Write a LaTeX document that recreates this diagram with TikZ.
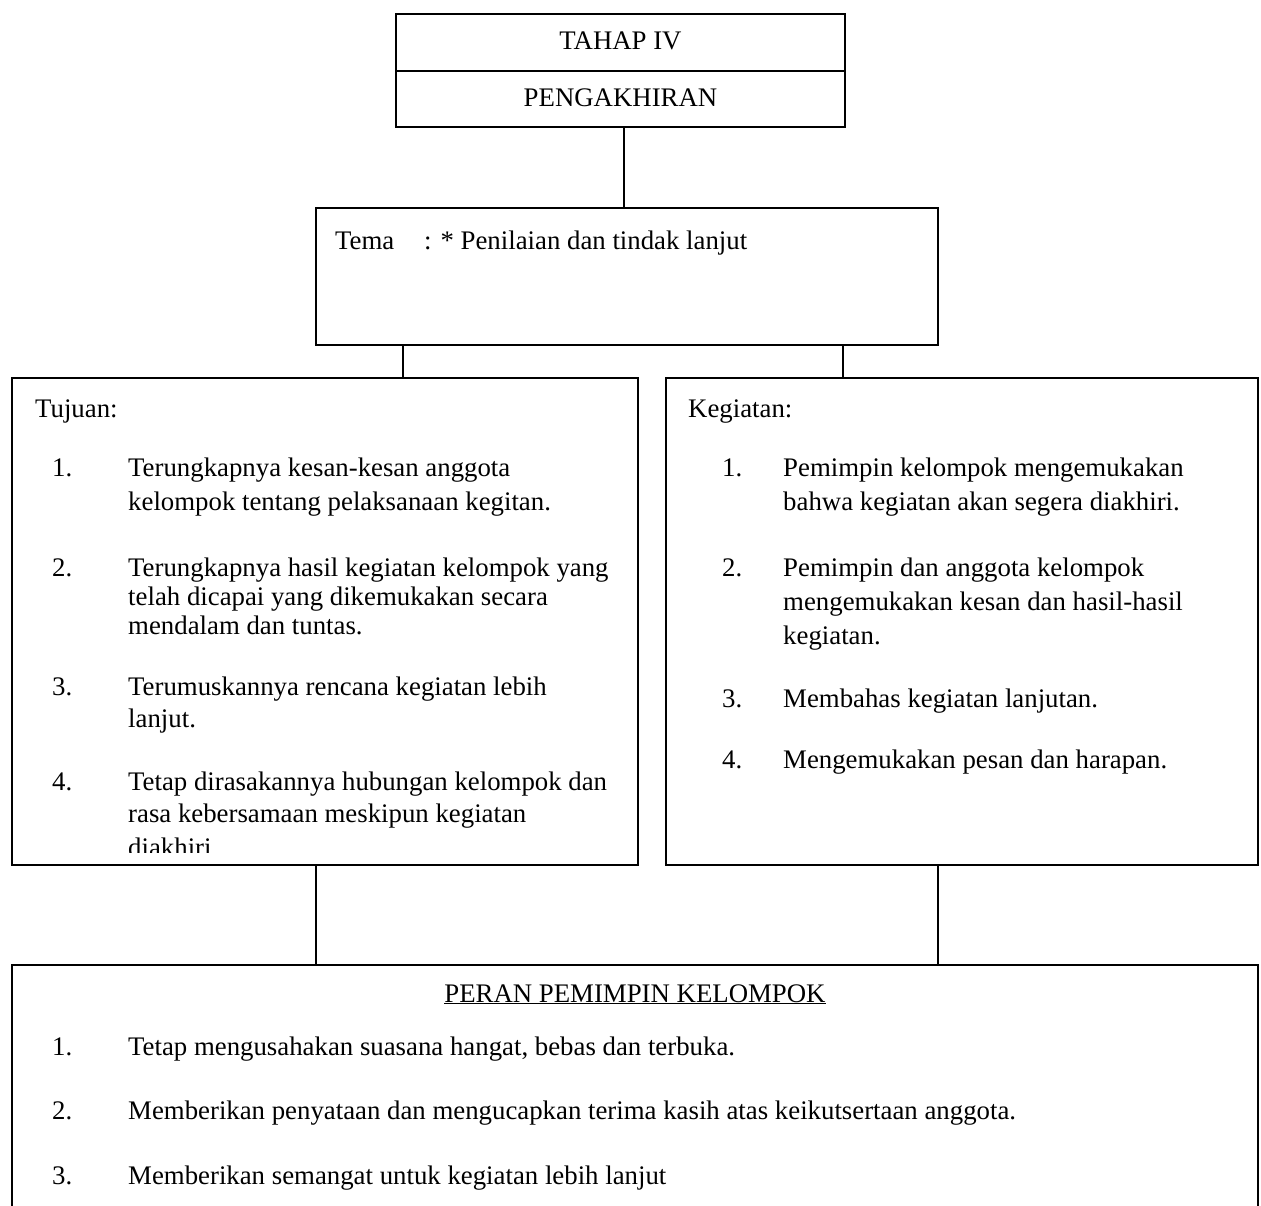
\documentclass[tikz,border=0pt]{standalone}
\usepackage{fontspec}
\setmainfont{Liberation Serif}
\usepackage{tikz}
\begin{document}
\begin{tikzpicture}[x=1pt,y=-1pt,
  box/.style={draw,line width=1.5pt,anchor=north west,inner sep=0pt,outer sep=0pt},
  conn/.style={line width=1.5pt},
  txt/.style={anchor=base west,inner sep=0pt,font=\fontsize{26.8}{33}\selectfont},
  ctxt/.style={anchor=base,inner sep=0pt,font=\fontsize{26.8}{33}\selectfont}]
\useasboundingbox (0,0) rectangle (1261,1206);
% top box
\node[box,minimum width=449pt,minimum height=57pt] (t1) at (396,14) {};
\node[box,minimum width=449pt,minimum height=56pt] (t2) at (396,71) {};
\node[ctxt] (t1txt) at (620.5,50) {TAHAP IV};
\node[ctxt] (t2txt) at (620.5,107) {PENGAKHIRAN};
% tema box
\node[box,minimum width=622pt,minimum height=137pt] (tema) at (316,208) {};
\node[txt] (temaA) at (335,250) {Tema};
\node[txt] (temaB) at (424,250) {: * Penilaian dan tindak lanjut};
% left and right boxes
\node[box,minimum width=626pt,minimum height=487pt] (left) at (12,378) {};
\node[box,minimum width=592pt,minimum height=487pt] (right) at (666,378) {};
% bottom box (open at bottom)
\coordinate (bl) at (12,1206);
\coordinate (br) at (1258,1206);
\coordinate (btl) at (12,965);
\coordinate (btr) at (1258,965);
\draw[conn] (bl) -- (btl) -- (btr) -- (br);
% connectors
\draw[conn] (t2.south -| 624,0) -- (tema.north -| 624,0);
\draw[conn] (tema.south -| 403,0) -- (left.north -| 403,0);
\draw[conn] (tema.south -| 843,0) -- (right.north -| 843,0);
\draw[conn] (left.south -| 316,0) -- (btl -| 316,0);
\draw[conn] (right.south -| 938,0) -- (btl -| 938,0);
% left text
\node[txt] (tuj) at (35,417) {Tujuan:};
\node[txt] (ln1) at (52,476) {1.};
\node[txt] (la1) at (128,476) {Terungkapnya kesan-kesan anggota};
\node[txt] (la2) at (128,510) {kelompok tentang pelaksanaan kegitan.};
\node[txt] (ln2) at (52,576) {2.};
\node[txt] (lb1) at (128,576) {Terungkapnya hasil kegiatan kelompok yang};
\node[txt] (lb2) at (128,605) {telah dicapai yang dikemukakan secara};
\node[txt] (lb3) at (128,634) {mendalam dan tuntas.};
\node[txt] (ln3) at (52,695) {3.};
\node[txt] (lc1) at (128,695) {Terumuskannya rencana kegiatan lebih};
\node[txt] (lc2) at (128,727) {lanjut.};
\node[txt] (ln4) at (52,790) {4.};
\node[txt] (ld1) at (128,790) {Tetap dirasakannya hubungan kelompok dan};
\node[txt] (ld2) at (128,822) {rasa kebersamaan meskipun kegiatan};
\begin{scope}
\clip (100,830) rectangle (600,852);
\node[txt] (ld3) at (128,856) {diakhiri};
\end{scope}
% right text
\node[txt] (keg) at (688,417) {Kegiatan:};
\node[txt] (rn1) at (722,476) {1.};
\node[txt] (ra1) at (783,476) {Pemimpin kelompok mengemukakan};
\node[txt] (ra2) at (783,510) {bahwa kegiatan akan segera diakhiri.};
\node[txt] (rn2) at (722,576) {2.};
\node[txt] (rb1) at (783,576) {Pemimpin dan anggota kelompok};
\node[txt] (rb2) at (783,610) {mengemukakan kesan dan hasil-hasil};
\node[txt] (rb3) at (783,644) {kegiatan.};
\node[txt] (rn3) at (722,707) {3.};
\node[txt] (rc1) at (783,707) {Membahas kegiatan lanjutan.};
\node[txt] (rn4) at (722,768) {4.};
\node[txt] (rd1) at (783,768) {Mengemukakan pesan dan harapan.};
% bottom text
\node[ctxt] (peran) at (635,1002) {\underline{PERAN PEMIMPIN KELOMPOK}};
\node[txt] (bn1) at (52,1055) {1.};
\node[txt] (b1) at (128,1055) {Tetap mengusahakan suasana hangat, bebas dan terbuka.};
\node[txt] (bn2) at (52,1119) {2.};
\node[txt] (b2) at (128,1119) {Memberikan penyataan dan mengucapkan terima kasih atas keikutsertaan anggota.};
\node[txt] (bn3) at (52,1184) {3.};
\node[txt] (b3) at (128,1184) {Memberikan semangat untuk kegiatan lebih lanjut};
\end{tikzpicture}
\end{document}
